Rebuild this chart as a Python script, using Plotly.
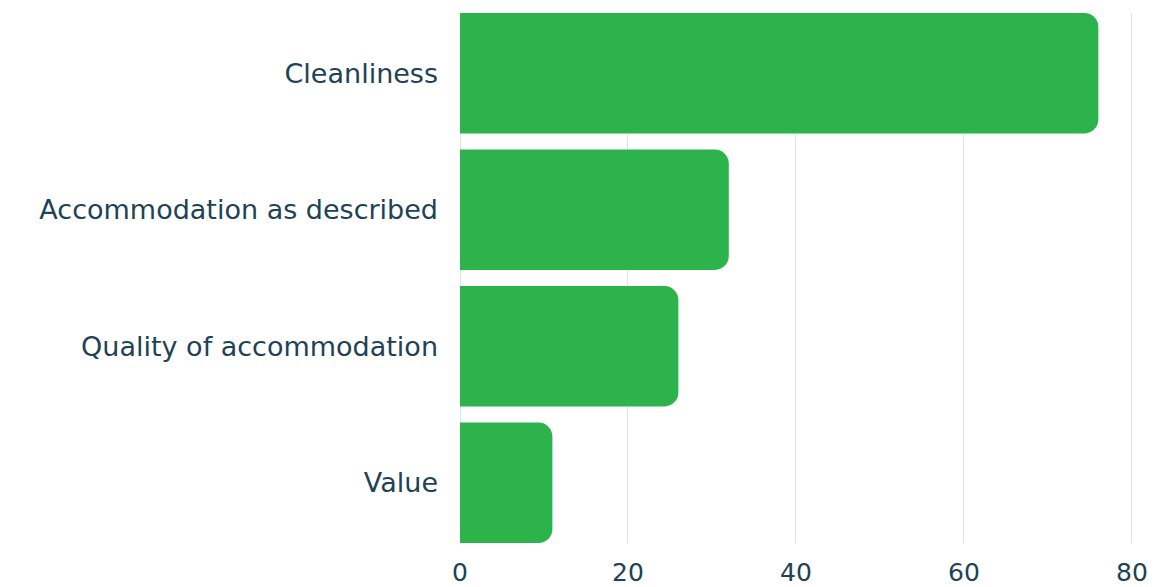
import plotly.graph_objects as go

# Review score categories and their counts
categories = ["Cleanliness", "Accommodation as described", "Quality of accommodation", "Value"]
counts = [76, 32, 26, 11]
x_ticks = [0, 20, 40, 60, 80]
x_tick_text = ["0", "20", "40", "60", "80"]

BAR_GREEN = "#2cb34b"
TEXT_COLOR = "#1e4256"
GRID_COLOR = "#dde3e7"
FONT = "DejaVu Sans, Noto Sans, sans-serif"

fig = go.Figure(
    go.Bar(
        x=counts,
        y=categories,
        orientation="h",
        marker=dict(color=BAR_GREEN, line=dict(width=0)),
        width=0.882,
        hoverinfo="x+y",
    )
)

fig.update_layout(
    width=1158,
    height=587,
    margin=dict(l=460, r=0, t=13, b=44, autoexpand=False),
    paper_bgcolor="white",
    plot_bgcolor="white",
    barcornerradius=14,
    showlegend=False,
    font=dict(family=FONT, color=TEXT_COLOR, size=26),
)

fig.update_xaxes(
    range=[0, 83.1],
    tickvals=x_ticks,
    ticktext=x_tick_text,
    automargin=False,
    showgrid=True,
    gridcolor=GRID_COLOR,
    gridwidth=1,
    zeroline=True,
    zerolinecolor=GRID_COLOR,
    zerolinewidth=1,
    showline=False,
    ticks="",
    ticklabelstandoff=12,
    tickfont=dict(size=25, color=TEXT_COLOR, family=FONT),
)

fig.update_yaxes(
    categoryorder="array",
    categoryarray=categories,
    range=[3.441, -0.441],
    automargin=False,
    showgrid=False,
    zeroline=False,
    showline=False,
    ticks="",
    ticklabelstandoff=21,
    tickfont=dict(size=27, color=TEXT_COLOR, family=FONT),
)

fig.write_html("out.html")
